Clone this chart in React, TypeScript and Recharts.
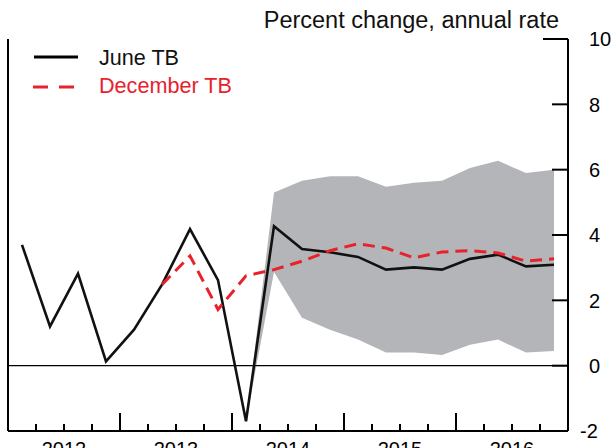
import React from 'react';
import { ComposedChart, Line, Area, XAxis, YAxis, ReferenceLine, Customized } from 'recharts';

const quarters = [
  '2012Q1', '2012Q2', '2012Q3', '2012Q4',
  '2013Q1', '2013Q2', '2013Q3', '2013Q4',
  '2014Q1', '2014Q2', '2014Q3', '2014Q4',
  '2015Q1', '2015Q2', '2015Q3', '2015Q4',
  '2016Q1', '2016Q2', '2016Q3', '2016Q4',
];
const juneTB = [3.7, 1.2, 2.82, 0.13, 1.1, 2.48, 4.18, 2.62, -1.7, 4.27, 3.57, 3.47, 3.33, 2.94, 3.01, 2.94, 3.27, 3.4, 3.04, 3.09];
const decemberTB = [null, null, null, null, null, 2.48, 3.36, 1.72, 2.75, 2.94, 3.2, 3.52, 3.73, 3.6, 3.3, 3.48, 3.52, 3.45, 3.2, 3.27];
const bandLow = [null, null, null, null, null, null, null, null, -1.7, 2.87, 1.47, 1.1, 0.8, 0.4, 0.4, 0.33, 0.64, 0.8, 0.4, 0.45];
const bandHigh = [null, null, null, null, null, null, null, null, -1.7, 5.3, 5.66, 5.8, 5.8, 5.48, 5.6, 5.66, 6.05, 6.27, 5.9, 6.0];
const yearLabels = ['2012', '2013', '2014', '2015', '2016'];
const yTicks = [-2, 0, 2, 4, 6, 8, 10];
const xTicks = Array.from({ length: quarters.length + 1 }, (_, i) => i);
const titleText = 'Percent change, annual rate';
const legendNames = ['June TB', 'December TB'];

const FONT = '"Liberation Sans", Arial, Helvetica, sans-serif';
const RED = '#e8222b';
const GRAY = '#b4b5b9';

const data = quarters.map((q, i) => ({
  x: i + 0.5,
  q,
  june: juneTB[i],
  dec: decemberTB[i],
  band: bandLow[i] == null ? null : [bandLow[i], bandHigh[i]],
}));

const XTick = (props: any) => {
  const { x, y, payload } = props;
  const v = payload.value as number;
  const len = v % 4 === 0 ? 18 : 7;
  const showLine = v > 0 && v < quarters.length;
  return (
    <g>
      {showLine && <line x1={x} x2={x} y1={y} y2={y - len} stroke="#000" strokeWidth={2} />}
      {v % 4 === 2 && (
        <text x={x} y={y + 25} textAnchor="middle" fontSize={20} fontFamily={FONT} fill="#000">
          {yearLabels[(v - 2) / 4]}
        </text>
      )}
    </g>
  );
};

const RightTick = (props: any) => {
  const { x, y, payload } = props;
  const v = payload.value as number;
  const len = v === 10 ? 25 : 16;
  return (
    <g>
      {v !== -2 && <line x1={x} x2={x - len} y1={y} y2={y} stroke="#000" strokeWidth={2} />}
      <text x={v < 0 ? x + 12 : x + 21} y={y} dy="0.36em" textAnchor="start" fontSize={20} fontFamily={FONT} fill="#000">
        {v}
      </text>
    </g>
  );
};

const LeftTick = (props: any) => {
  const { x, y, payload } = props;
  const v = payload.value as number;
  const len = v === 10 ? 24 : 16;
  if (v === -2) return <g />;
  return <line x1={x} x2={x + len} y1={y} y2={y} stroke="#000" strokeWidth={2} />;
};

const Decorations = () => (
  <g fontFamily={FONT}>
    <text x={559} y={28} textAnchor="end" fontSize={23.5} fill="#111">{titleText}</text>
    <line x1={34} x2={78} y1={57} y2={57} stroke="#000" strokeWidth={3} />
    <text x={99} y={65} fontSize={21.6} fill="#111">{legendNames[0]}</text>
    <line x1={33} x2={74} y1={87} y2={87} stroke={RED} strokeWidth={3} strokeDasharray="15 11" />
    <text x={99} y={93} fontSize={21.6} fill={RED}>{legendNames[1]}</text>
  </g>
);

export default function App() {
  return (
    <div style={{ position: 'absolute', left: 0, top: 0, background: '#fff' }}>
      <ComposedChart width={613} height={448} data={data} margin={{ top: 39, right: 0, bottom: 0, left: 0 }}>
        <XAxis
          dataKey="x"
          type="number"
          domain={[0, quarters.length]}
          ticks={xTicks}
          interval={0}
          height={17}
          tickSize={0}
          tickMargin={0}
          tickLine={false}
          axisLine={{ stroke: '#000', strokeWidth: 2 }}
          tick={<XTick />}
        />
        <YAxis
          yAxisId="l"
          orientation="left"
          width={8}
          domain={[-2, 10]}
          ticks={yTicks}
          interval={0}
          tickSize={0}
          tickMargin={0}
          tickLine={false}
          axisLine={{ stroke: '#000', strokeWidth: 2 }}
          tick={<LeftTick />}
        />
        <YAxis
          yAxisId="r"
          orientation="right"
          width={45}
          domain={[-2, 10]}
          ticks={yTicks}
          interval={0}
          tickSize={0}
          tickMargin={0}
          tickLine={false}
          axisLine={{ stroke: '#000', strokeWidth: 2 }}
          tick={<RightTick />}
        />
        <Area
          yAxisId="r"
          dataKey="band"
          type="linear"
          stroke="none"
          fill={GRAY}
          fillOpacity={1}
          isAnimationActive={false}
          dot={false}
          activeDot={false}
        />
        <ReferenceLine yAxisId="r" y={0} stroke="#000" strokeWidth={1.3} />
        <Line
          yAxisId="r"
          dataKey="june"
          type="linear"
          stroke="#111"
          strokeWidth={2.6}
          dot={false}
          activeDot={false}
          isAnimationActive={false}
        />
        <Line
          yAxisId="r"
          dataKey="dec"
          type="linear"
          stroke={RED}
          strokeWidth={3}
          strokeDasharray="12 7"
          dot={false}
          activeDot={false}
          isAnimationActive={false}
        />
        <Customized component={Decorations} />
      </ComposedChart>
    </div>
  );
}
